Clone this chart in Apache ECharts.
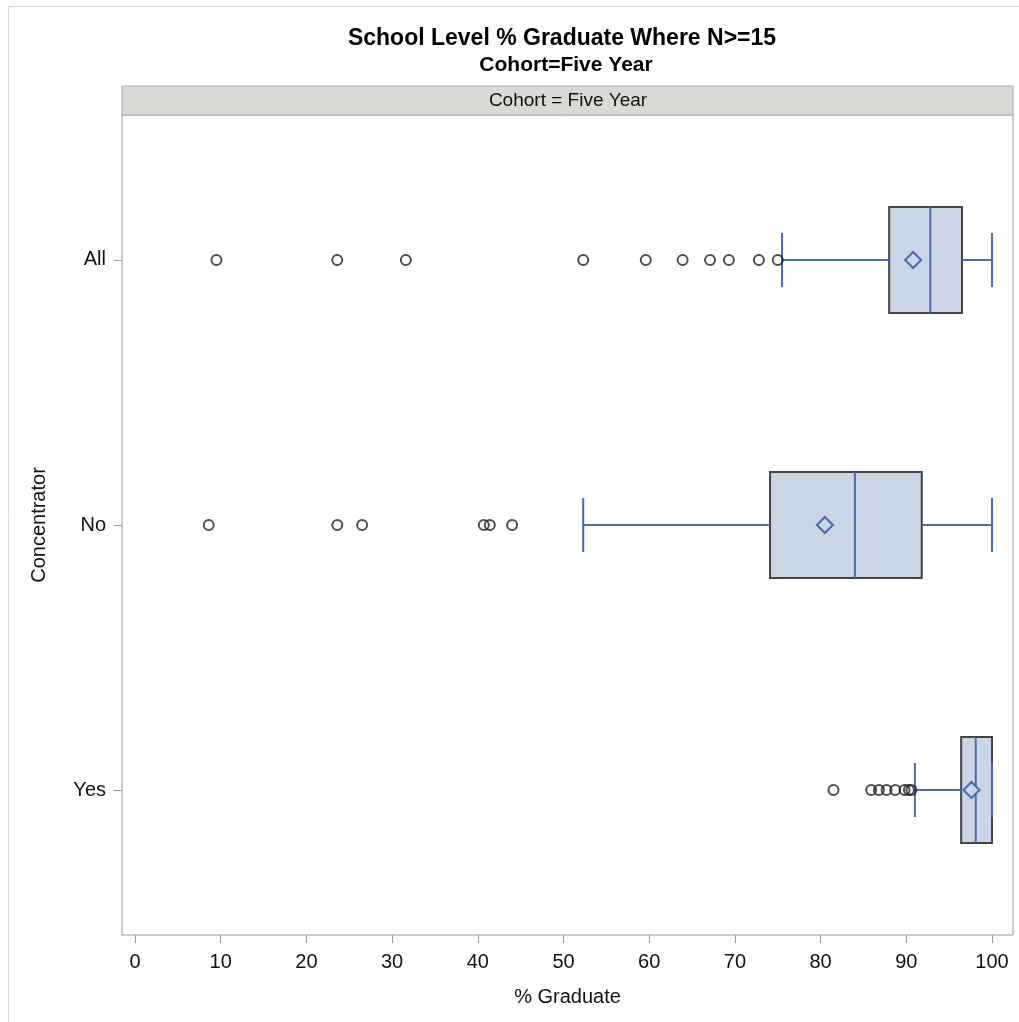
<!DOCTYPE html>
<html>
<head>
<meta charset="utf-8">
<script src="https://cdn.jsdelivr.net/npm/echarts@6/dist/echarts.min.js"></script>
<style>html,body{margin:0;padding:0;background:#fff}#c{width:1019px;height:1022px}</style>
</head>
<body>
<div id="c"></div>
<script>
var categories = ['All', 'No', 'Yes'];
var q1 = [88.0, 74.1, 96.4];
var median = [92.8, 84.0, 98.1];
var q3 = [96.5, 91.8, 100];
var mean = [90.8, 80.5, 97.6];
var whiskerLow = [75.5, 52.3, 91.0];
var whiskerHigh = [100, 100, 100];
var outliersAll = [9.5, 23.6, 31.6, 52.3, 59.6, 63.9, 67.1, 69.3, 72.8, 75.0];
var outliersNo = [8.6, 23.6, 26.5, 40.7, 41.4, 44.0];
var outliersYes = [81.5, 85.9, 86.8, 87.7, 88.7, 89.8, 90.3, 90.6];
var xTicks = [0, 10, 20, 30, 40, 50, 60, 70, 80, 90, 100];

var FONT = '"Liberation Sans", Arial, sans-serif';
var BLUE = '#4a6ab3';
var BOXFILL = '#cad5e6';
var BOXEDGE = '#444444';

var boxData = categories.map(function (c, i) {
  return [i, q1[i], median[i], q3[i], mean[i], whiskerLow[i], whiskerHigh[i]];
});
var outlierData = [];
[outliersAll, outliersNo, outliersYes].forEach(function (arr, i) {
  arr.forEach(function (v) { outlierData.push([v, i]); });
});

function renderBox(params, api) {
  var i = api.value(0);
  var pQ1 = api.coord([api.value(1), i]);
  var pMed = api.coord([api.value(2), i]);
  var pQ3 = api.coord([api.value(3), i]);
  var pMean = api.coord([api.value(4), i]);
  var pLow = api.coord([api.value(5), i]);
  var pHigh = api.coord([api.value(6), i]);
  var half = api.size([0, 0.2])[1];
  var capHalf = api.size([0, 0.102])[1];
  var cy = pQ1[1];
  var lineStyle = { stroke: BLUE, lineWidth: 2 };
  var children = [
    { type: 'rect', shape: { x: pQ1[0], y: cy - half, width: pQ3[0] - pQ1[0], height: 2 * half },
      style: { fill: BOXFILL, stroke: BOXEDGE, lineWidth: 2 } },
    { type: 'line', shape: { x1: pLow[0], y1: cy, x2: pQ1[0], y2: cy }, style: lineStyle },
    { type: 'line', shape: { x1: pQ3[0], y1: cy, x2: pHigh[0], y2: cy }, style: lineStyle },
    { type: 'line', shape: { x1: pLow[0], y1: cy - capHalf, x2: pLow[0], y2: cy + capHalf }, style: lineStyle },
    { type: 'line', shape: { x1: pHigh[0], y1: cy - capHalf, x2: pHigh[0], y2: cy + capHalf }, style: lineStyle },
    { type: 'line', shape: { x1: pMed[0], y1: cy - half, x2: pMed[0], y2: cy + half }, style: lineStyle },
    { type: 'polygon', shape: { points: [[pMean[0] - 8, cy], [pMean[0], cy - 8], [pMean[0] + 8, cy], [pMean[0], cy + 8]] },
      style: { fill: BOXFILL, stroke: BLUE, lineWidth: 2 } }
  ];
  return { type: 'group', children: children };
}

var chart = echarts.init(document.getElementById('c'), null, { renderer: 'canvas' });
chart.setOption({
  backgroundColor: '#ffffff',
  animation: false,
  graphic: [
    { type: 'polyline', shape: { points: [[8.5, 1022], [8.5, 6.5], [1019, 6.5]] },
      style: { stroke: '#d4d4d4', lineWidth: 1, fill: null }, silent: true },
    { type: 'text', x: 562, y: 39, style: { text: 'School Level % Graduate Where N>=15', fontFamily: FONT,
      fontSize: 23, fontWeight: 'bold', fill: '#000', align: 'center', verticalAlign: 'middle' }, silent: true },
    { type: 'text', x: 566, y: 65, style: { text: 'Cohort=Five Year', fontFamily: FONT,
      fontSize: 21, fontWeight: 'bold', fill: '#000', align: 'center', verticalAlign: 'middle' }, silent: true },
    { type: 'rect', shape: { x: 122, y: 86, width: 891, height: 29 },
      style: { fill: '#d9dad5', stroke: '#a8a8a8', lineWidth: 1 }, silent: true },
    { type: 'text', x: 568, y: 101, style: { text: 'Cohort = Five Year', fontFamily: FONT, fontSize: 19,
      fill: '#111', align: 'center', verticalAlign: 'middle' }, silent: true }
  ],
  grid: { left: 122, right: 6, top: 115, bottom: 87, show: true, borderColor: '#9a9a9a', borderWidth: 1, backgroundColor: '#fff' },
  xAxis: {
    type: 'value', min: -1.52, max: 102.45,
    name: '% Graduate', nameLocation: 'middle', nameGap: 52,
    nameTextStyle: { fontFamily: FONT, fontSize: 20, color: '#111' },
    axisLine: { show: false, onZero: false },
    splitLine: { show: false },
    axisTick: { show: true, length: 8, customValues: xTicks, lineStyle: { color: '#9a9a9a' } },
    axisLabel: { customValues: xTicks, fontFamily: FONT, fontSize: 20, color: '#111', margin: 17,
      showMinLabel: true, showMaxLabel: true }
  },
  yAxis: {
    type: 'value', inverse: true, min: -0.547, max: 2.547,
    name: 'Concentrator', nameLocation: 'middle', nameGap: 73, nameRotate: 90,
    nameTextStyle: { fontFamily: FONT, fontSize: 20, color: '#111' },
    axisLine: { show: false, onZero: false },
    splitLine: { show: false },
    axisTick: { show: true, length: 8, customValues: [0, 1, 2], lineStyle: { color: '#9a9a9a' } },
    axisLabel: { customValues: [0, 1, 2], fontFamily: FONT, fontSize: 20, color: '#111', margin: 16,
      formatter: function (v) { return categories[Math.round(v)]; } }
  },
  series: [
    { type: 'custom', renderItem: renderBox, data: boxData, encode: { x: [1, 2, 3, 4, 5, 6], y: 0 }, z: 2 },
    { type: 'scatter', data: outlierData, symbol: 'circle', symbolSize: 10, z: 3,
      itemStyle: { color: 'rgba(255,255,255,0)', borderColor: '#222', borderWidth: 2 } }
  ]
});
</script>
</body>
</html>
